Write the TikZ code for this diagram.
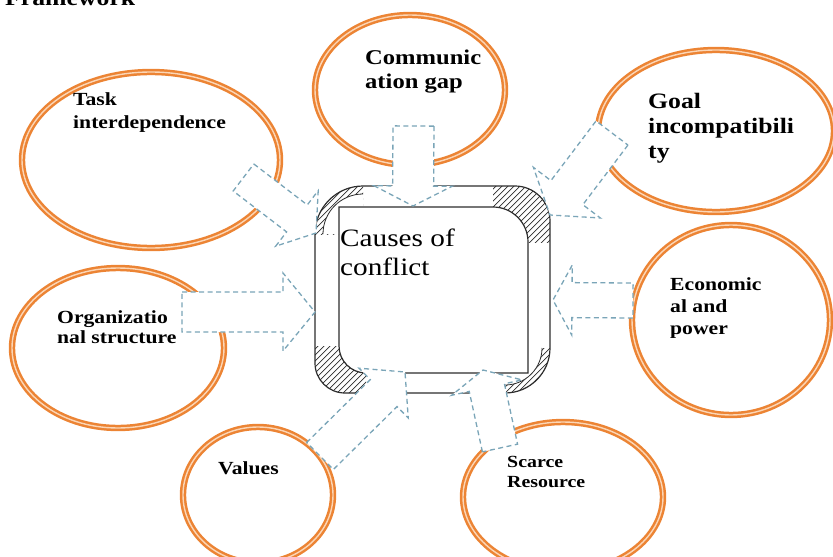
\documentclass[tikz,border=0pt]{standalone}
\usepackage{fontspec}
\setmainfont{Liberation Serif}[FakeStretch=1.17]
\usetikzlibrary{calc,shapes.geometric}
\definecolor{orng}{RGB}{236,132,52}
\definecolor{orngcore}{RGB}{251,214,182}
\definecolor{dashblue}{RGB}{122,165,184}
\definecolor{boxline}{RGB}{45,45,45}
\tikzset{
  bubble/.style={ellipse, draw=orng, double=orngcore, double distance=1.4pt, line width=2.5pt, fill=white, inner sep=0pt},
  blockarr/.style={draw=dashblue, fill=white, line width=1.3pt, dash pattern=on 5pt off 3.5pt, line join=miter},
  lbl/.style={anchor=base west, inner sep=0pt, align=left},
  hatchline/.style={line width=0.7pt, draw=boxline},
  frameline/.style={line width=1.2pt, draw=boxline},
}
\newcommand{\blockarrow}[5]{%
  \path ($(#2)!#5pt!(#1)$) coordinate (hb);
  \draw[blockarr] ($(#1)!#3pt!90:(#2)$) -- ($(hb)!#3pt!90:(#2)$) -- ($(hb)!#4pt!90:(#2)$) -- (#2)
     -- ($(hb)!#4pt!-90:(#2)$) -- ($(hb)!#3pt!-90:(#2)$) -- ($(#1)!#3pt!-90:(#2)$) -- cycle;
}
\newcommand{\hatchfill}{\foreach \t in {40,46,...,510} {\draw[hatchline] (\t,450) -- ++(300,-300);}}
\def\outerpath{(315,234) .. controls (315,207.5) and (336.5,186) .. (363,186) -- (515,186) .. controls (534.3,186) and (550,201.7) .. (550,221) -- (550,348) .. controls (550,372.8) and (529.8,393) .. (505,393) -- (345,393) .. controls (328.4,393) and (315,379.6) .. (315,363) -- cycle}
\def\innerpath{(339,207) -- (493,207) .. controls (512.3,207) and (528,222.7) .. (528,242) -- (528,373) -- (366,373) .. controls (351.1,373) and (339,360.9) .. (339,346) -- cycle}
\begin{document}
\begin{tikzpicture}[x=1pt,y=-1pt]
\useasboundingbox (0,0) rectangle (833,557);
\clip (0,0) rectangle (833,557);

% title, cut off at the top
\node[lbl, font=\bfseries\fontsize{22}{26}\selectfont] (title) at (5,5) {Framework};

% ellipses
\node[bubble, minimum width=258pt, minimum height=176pt] (eTask) at (151,160) {};
\node[bubble, minimum width=190pt, minimum height=150pt] (eComm) at (410,90) {};
\node[bubble, minimum width=236pt, minimum height=162pt] (eGoal) at (716,131) {};
\node[bubble, minimum width=212pt, minimum height=160pt] (eOrg) at (118,348) {};
\node[bubble, minimum width=198pt, minimum height=190pt] (eEcon) at (731,320) {};
\node[bubble, minimum width=150pt, minimum height=136pt] (eVal) at (258,495) {};
\node[bubble, minimum width=200pt, minimum height=150pt] (eScarce) at (563,497) {};

% central framed box
\fill[white] \outerpath;
\begin{scope}
  \clip \outerpath;
  \begin{scope}\clip (493,186) rectangle (550,242); \hatchfill \end{scope}
  \begin{scope}\clip (315,346) rectangle (366,393); \hatchfill \end{scope}
  \begin{scope}\clip (315,186) rectangle (363,234); \hatchfill \end{scope}
  \begin{scope}\clip (505,348) rectangle (550,393); \hatchfill \end{scope}
\end{scope}
\fill[white] \innerpath;
\fill[white] (323,234) .. controls (323,211.9) and (340.9,194) .. (363,194) -- (363,234) -- cycle;
\fill[white] (542,348) .. controls (542,368.4) and (525.4,385) .. (505,385) -- (505,348) -- cycle;
\draw[frameline] \outerpath;
\draw[frameline] \innerpath;
\draw[boxline, line width=0.8pt] (323,234) .. controls (323,211.9) and (340.9,194) .. (363,194);
\draw[boxline, line width=0.8pt] (542,348) .. controls (542,368.4) and (525.4,385) .. (505,385);
\node[lbl, font=\fontsize{25}{29}\selectfont] (causes) at (340,275) {Causes of\\conflict};

% labels (anchor = baseline of the last line)
\node[lbl, font=\bfseries\fontsize{18.5}{23}\selectfont] (tTask) at (73,128) {Task\\interdependence};
\node[lbl, font=\bfseries\fontsize{21}{24}\selectfont] (tComm) at (365,88) {Communic\\ation gap};
\node[lbl, font=\bfseries\fontsize{22}{25}\selectfont] (tGoal) at (648,158) {Goal\\incompatibili\\ty};
\node[lbl, font=\bfseries\fontsize{18.5}{20}\selectfont] (tOrg) at (57,343) {Organizatio\\nal structure};
\node[lbl, font=\bfseries\fontsize{18.5}{22}\selectfont] (tEcon) at (670,334) {Economic\\al and\\power};
\node[lbl, font=\bfseries\fontsize{18.5}{22}\selectfont] (tVal) at (218,474) {Values};
\node[lbl, font=\bfseries\fontsize{17}{20}\selectfont] (tScarce) at (507,487) {Scarce\\Resource};

% block arrows: tail / tip coordinates
\coordinate (a1s) at (243.5,177.5); \coordinate (a1e) at (316,233);
\coordinate (a2s) at (413.5,126);   \coordinate (a2e) at (413,206);
\coordinate (a3s) at (612,133);     \coordinate (a3e) at (550,215);
\coordinate (a4s) at (182,312);     \coordinate (a4e) at (315,312);
\coordinate (a5s) at (633,300.5);   \coordinate (a5e) at (553,300);
\coordinate (a6s) at (320,456);     \coordinate (a6e) at (405,372);
\coordinate (a7s) at (500,448);     \coordinate (a7e) at (483,370);
\blockarrow{a1s}{a1e}{17}{35}{24}
\blockarrow{a2s}{a2e}{20.5}{39}{20}
\blockarrow{a3s}{a3e}{20}{42}{28}
\blockarrow{a4s}{a4e}{20}{39}{32}
\blockarrow{a5s}{a5e}{17.5}{35}{19}
\blockarrow{a6s}{a6e}{19}{35}{30}
\blockarrow{a7s}{a7e}{18}{36}{18}
\end{tikzpicture}
\end{document}
